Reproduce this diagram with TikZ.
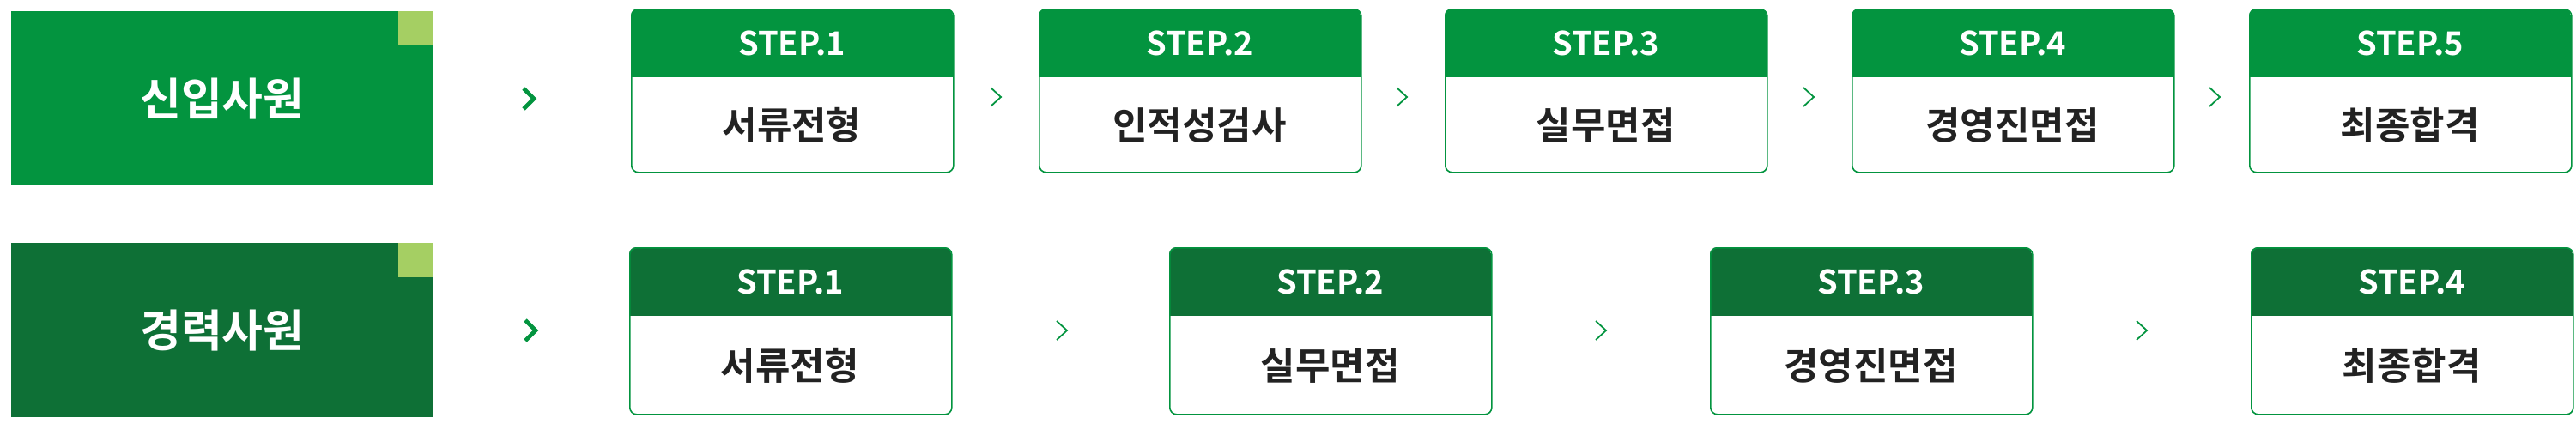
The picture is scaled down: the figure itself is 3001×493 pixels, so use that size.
\documentclass[tikz,border=0pt]{standalone}
\usepackage{fontspec}
\setmainfont{Noto Sans CJK KR}[BoldFont={Noto Sans CJK KR Bold}]
\usepackage{xcolor}
\definecolor{newgreen}{RGB}{3,148,63}
\definecolor{expgreen}{RGB}{14,112,54}
\definecolor{leafgreen}{RGB}{165,207,99}
\definecolor{inktext}{RGB}{34,34,34}
\tikzset{
  group/.style={draw=none,minimum width=245.5pt,minimum height=101.5pt,inner sep=0pt,text=white,font=\bfseries\fontsize{26}{26}\selectfont},
  stepbox/.style={draw=#1,line width=0.8pt,rounded corners=4pt,minimum width=187.5pt,minimum height=95pt,inner sep=0pt},
  head/.style={text=white,font=\bfseries\fontsize{19}{19}\selectfont},
  body/.style={text=inktext,font=\bfseries\fontsize{22}{22}\selectfont},
  bigchev/.style={line width=2.4pt,line cap=butt},
  chev/.style={line width=0.9pt}
}
\begin{document}
\begin{tikzpicture}[x=0.5pt,y=0.5pt,yscale=-1]
\useasboundingbox (0,0) rectangle (3001,493);
% group boxes
\node[group,fill=newgreen,anchor=north west] (g1) at (13,13) {신입사원};
\fill[leafgreen] (464,13) rectangle (504,53);
\node[group,fill=expgreen,anchor=north west] (g2) at (13,283) {경력사원};
\fill[leafgreen] (464,283) rectangle (504,323);
% big chevrons
\draw[bigchev,newgreen] (610,103) -- (622,115) -- (610,127);
\draw[bigchev,newgreen] (612,373) -- (624,385) -- (612,397);
% row 1
\foreach \x/\t [count=\i] in {735/서류전형,1210/인적성검사,1683/실무면접,2157/경영진면접,2620/최종합격}{
  \begin{scope}
  \clip[rounded corners=4pt] (\x,10) rectangle ++(375,190);
  \fill[newgreen] (\x,10) rectangle ++(375,80);
  \end{scope}
  \node[stepbox=newgreen,anchor=north west] (a\i) at (\x,10) {};
  \node[head] at (\x+187.5,50) {STEP.\i};
  \node[body] at (\x+187.5,146) {\t};
}
\foreach \x in {1160,1633,2107,2580}
  \draw[chev,newgreen] (\x-6,102) -- (\x+6,113) -- (\x-6,124);
% row 2
\foreach \x/\t [count=\i] in {733/서류전형,1362/실무면접,1992/경영진면접,2622/최종합격}{
  \begin{scope}
  \clip[rounded corners=4pt] (\x,288) rectangle ++(375,194);
  \fill[expgreen] (\x,288) rectangle ++(375,80);
  \end{scope}
  \node[stepbox=newgreen,anchor=north west,minimum height=97pt] (b\i) at (\x,288) {};
  \node[head] at (\x+187.5,328) {STEP.\i};
  \node[body] at (\x+187.5,426) {\t};
}
\foreach \x in {1237,1865,2495}
  \draw[chev,newgreen] (\x-6,374) -- (\x+6,385) -- (\x-6,396);
\end{tikzpicture}
\end{document}
